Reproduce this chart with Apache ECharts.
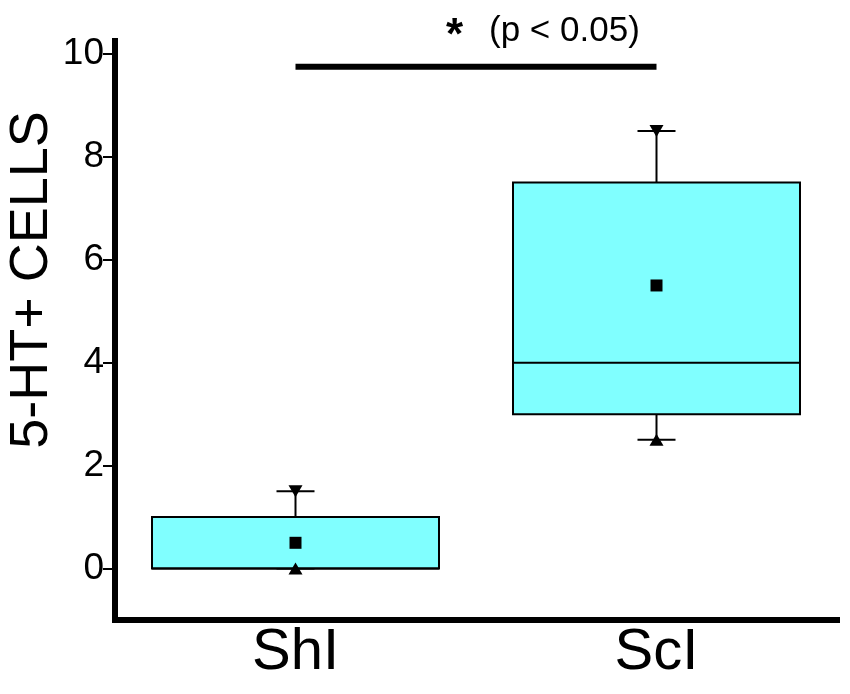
<!DOCTYPE html>
<html>
<head>
    <meta charset="utf-8" />
    <style>
        html, body {
        margin: 0;
        padding: 0;
        background-color: #fff;
        }
        #boxChart {
        width: 850px;
        height: 694px;
        }
    </style>
    <script src="https://cdn.jsdelivr.net/npm/echarts@6/dist/echarts.min.js"></script>
</head>
<body>
    <div id="boxChart"></div>

    <script type="text/javascript">
        // 数据
        var groups = ['ShI', 'ScI'];
        var minVals = [0, 2.5];
        var q1Vals = [0, 3];
        var medianVals = [0, 4];
        var q3Vals = [1, 7.5];
        var maxVals = [1.5, 8.5];
        var meanVals = [0.5, 5.5];
        var yTicks = [0, 2, 4, 6, 8, 10];
        var sigLevel = [9.75, 9.75];
        var sigText = '(p < 0.05)';
        var yName = '5-HT+ CELLS';

        var boxData = [];
        for (var i = 0; i < groups.length; i++) {
            boxData.push([i, minVals[i], q1Vals[i], medianVals[i], q3Vals[i], maxVals[i]]);
        }

        // 箱体 + 须线
        function renderBox(params, api) {
            var idx = api.value(0);
            var xc = api.coord([idx, 0])[0];
            var half = api.size([1, 0])[0] * 0.795 / 2;
            var capHalf = 19;
            var yMin = api.coord([idx, api.value(1)])[1];
            var yQ1 = api.coord([idx, api.value(2)])[1];
            var yMed = api.coord([idx, api.value(3)])[1];
            var yQ3 = api.coord([idx, api.value(4)])[1];
            var yMax = api.coord([idx, api.value(5)])[1];
            var lineStyle = { stroke: '#000', lineWidth: 2 };
            return {
                type: 'group',
                children: [
                    { type: 'line', shape: { x1: xc, y1: yQ3, x2: xc, y2: yMax }, style: lineStyle },
                    { type: 'line', shape: { x1: xc, y1: yQ1, x2: xc, y2: yMin }, style: lineStyle },
                    { type: 'line', shape: { x1: xc - capHalf, y1: yMax, x2: xc + capHalf, y2: yMax }, style: lineStyle },
                    { type: 'line', shape: { x1: xc - capHalf, y1: yMin, x2: xc + capHalf, y2: yMin }, style: lineStyle },
                    {
                        type: 'rect',
                        shape: { x: xc - half, y: yQ3, width: half * 2, height: yQ1 - yQ3 },
                        style: { fill: '#80ffff', stroke: '#000', lineWidth: 2 }
                    },
                    { type: 'line', shape: { x1: xc - half, y1: yMed, x2: xc + half, y2: yMed }, style: lineStyle }
                ]
            };
        }

        var boxOptions = {
            animation: false,
            backgroundColor: '#fff',
            grid: {
                left: 115,
                right: 13,
                top: 41,
                bottom: 74
            },
            xAxis: {
                type: 'category',
                data: groups,
                boundaryGap: true,
                axisLine: {
                    onZero: false,
                    lineStyle: { color: '#000', width: 6, cap: 'square' }
                },
                axisTick: { show: false },
                axisLabel: {
                    color: '#000',
                    fontSize: 58,
                    fontFamily: 'Liberation Sans',
                    margin: 4
                },
                splitLine: { show: false }
            },
            yAxis: {
                type: 'value',
                min: -1,
                max: 10.25,
                axisLine: {
                    show: true,
                    lineStyle: { color: '#000', width: 6, cap: 'square' }
                },
                axisTick: {
                    show: true,
                    length: 12,
                    customValues: yTicks,
                    lineStyle: { color: '#000', width: 2 }
                },
                axisLabel: {
                    color: '#000',
                    fontSize: 37,
                    fontFamily: 'Liberation Sans',
                    margin: 11,
                    customValues: yTicks
                },
                splitLine: { show: false }
            },
            graphic: [
                {
                    type: 'text',
                    x: 32,
                    y: 280,
                    rotation: Math.PI / 2,
                    style: {
                        text: yName,
                        fill: '#000',
                        font: '54px "Liberation Sans"',
                        align: 'center',
                        verticalAlign: 'middle'
                    }
                },
                {
                    type: 'text',
                    x: 446,
                    y: 37,
                    style: {
                        text: '*',
                        fill: '#000',
                        font: 'bold 44px "Liberation Sans"',
                        align: 'left',
                        verticalAlign: 'middle'
                    }
                },
                {
                    type: 'text',
                    x: 489,
                    y: 31,
                    style: {
                        text: sigText,
                        fill: '#000',
                        font: '35px "Liberation Sans"',
                        align: 'left',
                        verticalAlign: 'middle'
                    }
                }
            ],
            series: [
                {
                    name: 'box',
                    type: 'custom',
                    renderItem: renderBox,
                    data: boxData,
                    z: 2
                },
                {
                    name: 'max',
                    type: 'scatter',
                    symbol: 'triangle',
                    symbolRotate: 180,
                    symbolSize: [14, 12],
                    itemStyle: { color: '#000', opacity: 1 },
                    data: maxVals,
                    z: 3
                },
                {
                    name: 'min',
                    type: 'scatter',
                    symbol: 'triangle',
                    symbolSize: [14, 12],
                    itemStyle: { color: '#000', opacity: 1 },
                    data: minVals,
                    z: 3
                },
                {
                    name: 'mean',
                    type: 'scatter',
                    symbol: 'rect',
                    symbolSize: 12,
                    itemStyle: { color: '#000', opacity: 1 },
                    data: meanVals,
                    z: 3
                },
                {
                    name: 'sig',
                    type: 'line',
                    symbol: 'none',
                    lineStyle: { color: '#000', width: 6 },
                    data: sigLevel,
                    z: 3
                }
            ]
        };

        var myBoxChart = echarts.init(document.getElementById('boxChart'));
        myBoxChart.setOption(boxOptions);
    </script>
</body>
</html>
